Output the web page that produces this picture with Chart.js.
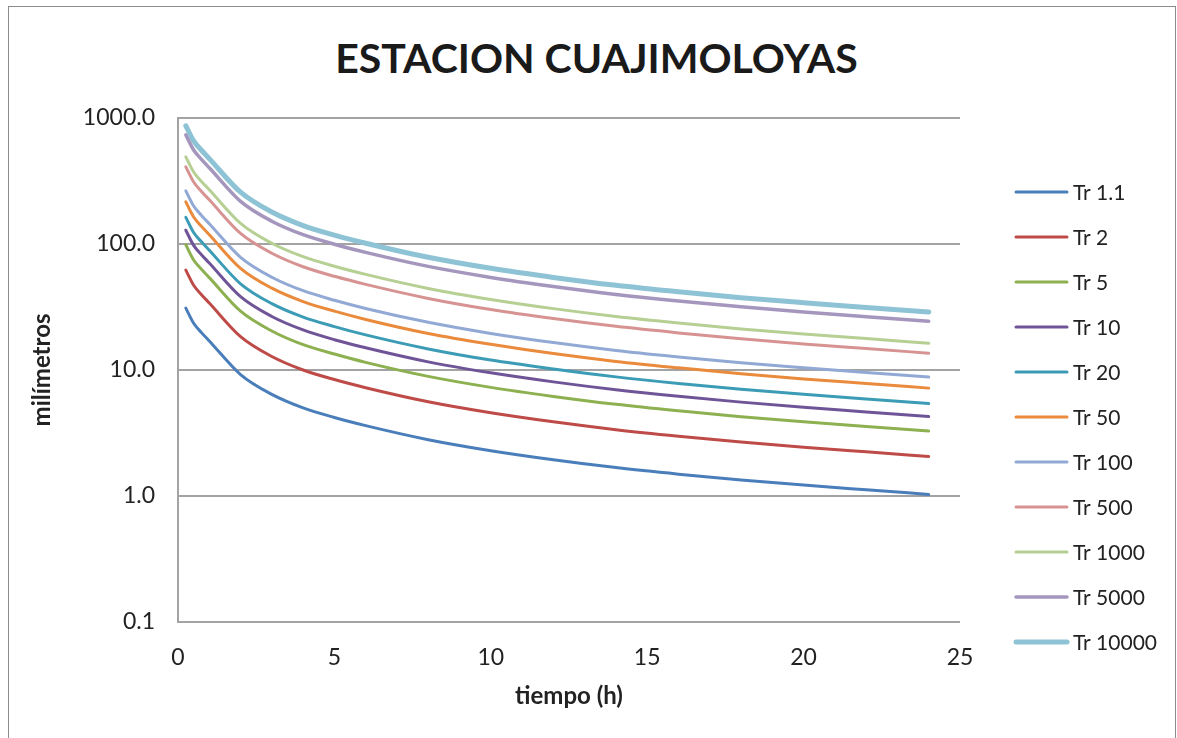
<!DOCTYPE html>
<html>
<head>
<meta charset="utf-8">
<script src="https://cdn.jsdelivr.net/npm/chart.js@4.4.1/dist/chart.umd.min.js"></script>
<style>
  html, body { margin: 0; padding: 0; background: #fff; overflow: hidden; }
  #wrap { position: relative; width: 1177px; height: 738px; }
  #frame { position: absolute; left: 8px; top: 6px; width: 1166px; height: 780px; border: 1.5px solid #8c8c8c; }
  #title { position: absolute; left: 0; top: 37px; width: 1193px; text-align: center;
           font: bold 41px Lato, sans-serif; line-height: 1; color: #1a1a1a; }
  canvas { position: absolute; left: 0; top: 0; }
</style>
</head>
<body>
<div id="wrap">
  <div id="frame"></div>
  <div id="title">ESTACION CUAJIMOLOYAS</div>
  <canvas id="chart" width="1177" height="738"></canvas>
</div>
<script>
// duration (h)
const times = [0.25, 0.5, 0.75, 1, 2, 3, 4, 5, 6, 8, 10, 12, 14, 16, 18, 20, 22, 24];

// intensity per return period
const tr1_1   = [31.0, 23.5, 19.8, 17.0, 9.2, 6.4, 5.0, 4.2, 3.62, 2.80, 2.29, 1.94, 1.68, 1.49, 1.34, 1.22, 1.12, 1.03];
const tr2     = [62.0, 47.0, 39.6, 34.0, 18.4, 12.8, 10.0, 8.4, 7.24, 5.60, 4.58, 3.88, 3.36, 2.98, 2.68, 2.44, 2.24, 2.06];
const tr5     = [98.6, 74.7, 63.0, 54.1, 29.3, 20.4, 15.9, 13.4, 11.5, 8.90, 7.28, 6.17, 5.34, 4.74, 4.26, 3.88, 3.56, 3.28];
const tr10    = [128.7, 97.5, 82.2, 70.6, 38.2, 26.6, 20.8, 17.4, 15.0, 11.6, 9.50, 8.05, 6.97, 6.18, 5.56, 5.06, 4.65, 4.27];
const tr20    = [162.8, 123.4, 104.0, 89.3, 48.3, 33.6, 26.3, 22.1, 19.0, 14.7, 12.0, 10.2, 8.82, 7.82, 7.04, 6.41, 5.88, 5.41];
const tr50    = [216.1, 163.8, 138.0, 118.5, 64.1, 44.6, 34.9, 29.3, 25.2, 19.5, 16.0, 13.5, 11.7, 10.4, 9.34, 8.50, 7.81, 7.18];
const tr100   = [264.1, 200.2, 168.7, 144.8, 78.4, 54.5, 42.6, 35.8, 30.8, 23.9, 19.5, 16.5, 14.3, 12.7, 11.4, 10.4, 9.54, 8.78];
const tr500   = [409.2, 310.2, 261.4, 224.4, 121.4, 84.5, 66.0, 55.4, 47.8, 37.0, 30.2, 25.6, 22.2, 19.7, 17.7, 16.1, 14.8, 13.6];
const tr1000  = [491.4, 372.5, 313.8, 269.5, 145.8, 101.4, 79.3, 66.6, 57.4, 44.4, 36.3, 30.7, 26.6, 23.6, 21.2, 19.3, 17.8, 16.3];
const tr5000  = [734.7, 557.0, 469.3, 402.9, 218.0, 151.7, 118.5, 99.5, 85.8, 66.4, 54.3, 46.0, 39.8, 35.3, 31.8, 28.9, 26.5, 24.4];
const tr10000 = [868.0, 658.0, 554.4, 476.0, 257.6, 179.2, 140.0, 117.6, 101.4, 78.4, 64.1, 54.3, 47.0, 41.7, 37.5, 34.2, 31.4, 28.8];

const seriesNames = ["Tr 1.1", "Tr 2", "Tr 5", "Tr 10", "Tr 20", "Tr 50", "Tr 100", "Tr 500", "Tr 1000", "Tr 5000", "Tr 10000"];
const seriesValues = [tr1_1, tr2, tr5, tr10, tr20, tr50, tr100, tr500, tr1000, tr5000, tr10000];
const seriesColors = ["#4a7ebb", "#be4b48", "#8db050", "#6f5497", "#3c9cb6", "#ea8a3c",
                      "#91a9d4", "#d79392", "#b6cf93", "#a596bd", "#8ec3d6"];
const seriesWidths = [3, 3, 3, 3, 3, 3, 3, 3, 3, 3.5, 5];

const yTicks = [0.1, 1, 10, 100, 1000];

const gridGray = "#a3a3a3";
const textColor = "#222";

// legend drawn to the right of the plot, Excel style
const sideLegend = {
  id: "sideLegend",
  afterDraw(chart) {
    const ctx = chart.ctx;
    ctx.save();
    ctx.font = "21px Lato, sans-serif";
    ctx.textBaseline = "middle";
    ctx.lineCap = "round";
    chart.data.datasets.forEach((ds, i) => {
      const y = 192 + i * 45;
      ctx.strokeStyle = ds.borderColor;
      ctx.lineWidth = ds.borderWidth;
      ctx.beginPath();
      ctx.moveTo(1016, y);
      ctx.lineTo(1067, y);
      ctx.stroke();
      ctx.fillStyle = textColor;
      ctx.fillText(ds.label, 1073, y + 1);
    });
    ctx.restore();
  },
};

const datasets = seriesNames.map((name, i) => ({
  label: name,
  data: times.map((t, j) => ({ x: t, y: seriesValues[i][j] })),
  borderColor: seriesColors[i],
  backgroundColor: seriesColors[i],
  borderWidth: seriesWidths[i],
  pointRadius: 0,
  cubicInterpolationMode: "monotone",
  borderCapStyle: "round",
  fill: false,
}));

new Chart(document.querySelector("#chart"), {
  type: "line",
  data: { datasets },
  plugins: [sideLegend],
  options: {
    responsive: false,
    animation: false,
    devicePixelRatio: 1,
    layout: { padding: { top: 118, right: 217, bottom: 0, left: 0 } },
    plugins: { legend: { display: false }, tooltip: { enabled: false } },
    scales: {
      x: {
        type: "linear",
        min: 0,
        max: 25,
        ticks: { stepSize: 5, padding: 22, color: textColor, font: { family: "Lato", size: 23 } },
        grid: { display: false, drawTicks: false },
        border: { display: false },
        title: {
          display: true,
          text: "tiempo (h)",
          color: textColor,
          font: { family: "Lato", size: 24, weight: "bold" },
          padding: { top: 0, bottom: 27 },
        },
        afterFit(scale) { scale.height = 116; },
      },
      y: {
        type: "logarithmic",
        min: 0.1,
        max: 1000,
        afterBuildTicks(scale) { scale.ticks = yTicks.map((v) => ({ value: v })); },
        ticks: {
          padding: 23,
          color: textColor,
          font: { family: "Lato", size: 23 },
          callback: (v) => Number(v).toFixed(1),
        },
        grid: { color: gridGray, lineWidth: 2, drawTicks: false },
        border: { display: true, color: gridGray, width: 2 },
        title: {
          display: true,
          text: "milímetros",
          color: textColor,
          font: { family: "Lato", size: 24, weight: "bold" },
          padding: { top: 28, bottom: 0 },
        },
        afterFit(scale) { scale.width = 178; },
      },
    },
  },
});
</script>
</body>
</html>
